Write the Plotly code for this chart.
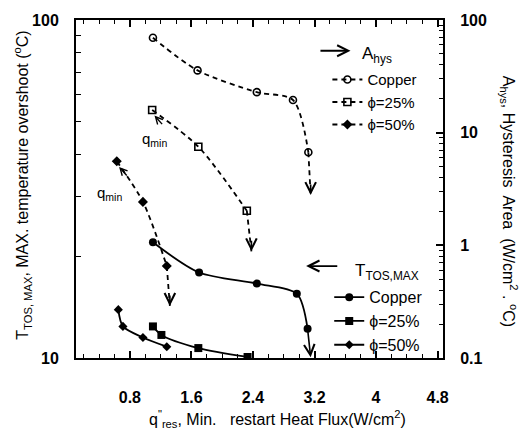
import numpy as np
import plotly.graph_objects as go

# ---------------- data ----------------
# Hysteresis area A_hys (right axis, dashed)
q_cu_hys = [1.10, 1.68, 2.45, 2.92, 3.12]
a_cu_hys = [69.5, 35.7, 22.9, 19.5, 6.7]
q_25_hys = [1.09, 1.69, 2.32]
a_25_hys = [15.9, 7.5, 2.03]
q_50_hys = [0.63, 0.97, 1.28]
a_50_hys = [5.57, 2.43, 0.655]
# where each hysteresis curve drops (arrow tips)
q_cu_hys_drop = [3.12, 3.15]
a_cu_hys_drop = [6.7, 2.8]
q_25_hys_drop = [2.32, 2.38]
a_25_hys_drop = [2.03, 0.885]
q_50_hys_drop = [1.28, 1.32]
a_50_hys_drop = [0.655, 0.29]

# Max temperature overshoot T_TOS,MAX (left axis, solid)
q_cu_t = [1.10, 1.70, 2.45, 2.97, 3.11]
t_cu = [22.0, 17.9, 16.6, 15.5, 12.2]
q_cu_t_drop = 3.15
t_cu_t_drop = 10.05
q_25_t = [1.10, 1.21, 1.69, 2.33]
t_25 = [12.4, 11.7, 10.7, 10.07]
q_50_t = [0.65, 0.71, 0.97, 1.28]
t_50 = [13.9, 12.4, 11.5, 10.8]

# q_min label positions (flux, A_hys)
q_min_label_q = [1.12, 0.54]
q_min_label_a = [8.7, 2.86]

x_ticks = [0.8, 1.6, 2.4, 3.2, 4.0, 4.8]
x_ticktext = ["0.8", "1.6", "2.4", "3.2", "4", "4.8"]
y_left_ticks = [10, 100]
y_right_ticks = [0.1, 1, 10, 100]
y_right_ticktext = ["0.1", "1", "10", "100"]
series_names = ["Copper", "\u03d5=25%", "\u03d5=50%"]

FONT = "Liberation Sans, Arial, sans-serif"
DASH = "5px,4px"
LW = 1.8

fig = go.Figure()

# ---- hysteresis (dashed, y2) ----
hys = [
    (q_cu_hys, a_cu_hys, "circle-open", 7, q_cu_hys_drop, a_cu_hys_drop),
    (q_25_hys, a_25_hys, "square-open", 7, q_25_hys_drop, a_25_hys_drop),
    (q_50_hys, a_50_hys, "diamond", 6, q_50_hys_drop, a_50_hys_drop),
]
for (qx, ay, sym, sz, dq, da), name in zip(hys, series_names):
    fig.add_trace(go.Scatter(
        x=qx, y=ay, yaxis="y2", mode="lines+markers", name=name,
        line=dict(color="black", width=LW, dash=DASH, shape="spline", smoothing=0.8),
        marker=dict(symbol=sym, size=sz, color="black", line=dict(color="black", width=1.6)),
        legend="legend",
    ))
    fig.add_trace(go.Scatter(
        x=dq, y=da, yaxis="y2", mode="lines", showlegend=False,
        line=dict(color="black", width=LW, dash=DASH), hoverinfo="skip",
    ))
    fig.add_annotation(
        x=dq[-1], y=np.log10(da[-1]), xref="x", yref="y2",
        ax=0, ay=-12, showarrow=True, arrowhead=5, arrowsize=1.3,
        arrowwidth=1.6, arrowcolor="black", text="",
    )

# ---- T_TOS,MAX (solid, y) ----
tos = [
    (q_cu_t, t_cu, "circle", 8),
    (q_25_t, t_25, "square", 8),
    (q_50_t, t_50, "diamond", 7),
]
for (qx, ty, sym, sz), name in zip(tos, series_names):
    fig.add_trace(go.Scatter(
        x=qx, y=ty, yaxis="y", mode="lines+markers", name=name,
        line=dict(color="black", width=LW, shape="spline", smoothing=0.8),
        marker=dict(symbol=sym, size=sz, color="black"),
        legend="legend2",
    ))

# copper T drop arrow (solid)
fig.add_annotation(
    x=q_cu_t_drop, y=np.log10(t_cu_t_drop), xref="x", yref="y",
    ax=q_cu_t[-1], ay=np.log10(t_cu[-1]), axref="x", ayref="y",
    showarrow=True, arrowhead=5, arrowsize=1.3, arrowwidth=1.6,
    arrowcolor="black", text="",
)

# q_min labels with little pointers
for qx, ay, lq, la in zip([q_25_hys, q_50_hys], [a_25_hys, a_50_hys],
                          q_min_label_q, q_min_label_a):
    fig.add_annotation(
        x=qx[0] + 0.03, y=np.log10(ay[0]) - 0.05, xref="x", yref="y2",
        ax=9, ay=10, showarrow=True, arrowhead=5, arrowsize=1.0,
        arrowwidth=1.4, arrowcolor="black", text="",
    )
    fig.add_annotation(
        x=lq, y=np.log10(la), xref="x", yref="y2",
        text="q<sub>min</sub>", showarrow=False, xanchor="center", yanchor="middle",
        font=dict(family=FONT, size=15, color="black"),
    )

# legend headers (arrows in axis-domain fractions)
fig.add_annotation(x=0.748, y=0.909, xref="x domain", yref="y domain",
                   ax=0.662, ay=0.909, axref="x domain", ayref="y domain",
                   showarrow=True, arrowhead=5, arrowsize=1.2, arrowwidth=1.8,
                   arrowcolor="black", text="")
fig.add_annotation(x=0.773, y=0.895, xref="paper", yref="paper",
                   text="A<sub>hys</sub>", showarrow=False, xanchor="left", yanchor="middle",
                   font=dict(family=FONT, size=17, color="black"))
fig.add_annotation(x=0.627, y=0.272, xref="x domain", yref="y domain",
                   ax=0.716, ay=0.272, axref="x domain", ayref="y domain",
                   showarrow=True, arrowhead=5, arrowsize=1.2, arrowwidth=1.8,
                   arrowcolor="black", text="")
fig.add_annotation(x=0.755, y=0.255, xref="paper", yref="paper",
                   text="T<sub>TOS,MAX</sub>", showarrow=False, xanchor="left", yanchor="middle",
                   font=dict(family=FONT, size=17, color="black"))

# axis titles
fig.add_annotation(x=0.548, y=-0.181, xref="paper", yref="paper",
                   xanchor="center", yanchor="middle",
                   text="q<sup>\"</sup><sub>res</sub>, Min.   restart Heat Flux(W/cm<sup>2</sup>)",
                   showarrow=False, font=dict(family=FONT, size=16, color="black"))
fig.add_annotation(x=-0.147, y=0.51, xref="paper", yref="paper", textangle=-90,
                   xanchor="center", yanchor="middle",
                   text="T<sub>TOS, MAX</sub>, MAX. temperature overshoot (<sup>o</sup>C)",
                   showarrow=False, font=dict(family=FONT, size=16, color="black"))
fig.add_annotation(x=1.18, y=0.465, xref="paper", yref="paper", textangle=90,
                   xanchor="center", yanchor="middle",
                   text="A<sub>hys</sub>, Hysteresis  Area  (W/cm<sup>2</sup> . <sup>o</sup>C)",
                   showarrow=False, font=dict(family=FONT, size=16, color="black"))

tickfont = dict(family=FONT, size=16, color="black", weight="bold")

fig.update_layout(
    width=521, height=436,
    margin=dict(l=76, r=78, t=16, b=78),
    paper_bgcolor="white", plot_bgcolor="white",
    font=dict(family=FONT, color="black"),
    xaxis=dict(
        range=[0.1, 4.87], tickvals=x_ticks, ticktext=x_ticktext,
        ticks="inside", ticklen=7, tickwidth=1.5, tickcolor="black",
        showline=True, linecolor="black", linewidth=2, mirror="ticks",
        showgrid=False, zeroline=False, tickfont=tickfont, ticklabelstandoff=24,
        minor=dict(dtick=0.2, tick0=0, ticks="inside", ticklen=4, tickcolor="black",
                   tickwidth=1.3, showgrid=False),
    ),
    yaxis=dict(
        type="log", range=[1, 2], tickvals=y_left_ticks,
        ticks="inside", ticklen=7, tickwidth=1.5, tickcolor="black",
        showline=True, linecolor="black", linewidth=2, mirror=False,
        showgrid=False, zeroline=False, tickfont=tickfont, ticklabelstandoff=12,
        minor=dict(tickvals=[20, 30, 40, 50, 60, 70, 80, 90], ticks="inside",
                   ticklen=5, tickcolor="black", tickwidth=1.3, showgrid=False),
    ),
    yaxis2=dict(
        type="log", range=[-1, 2], overlaying="y", side="right",
        tickvals=y_right_ticks, ticktext=y_right_ticktext,
        ticks="inside", ticklen=7, tickwidth=1.5, tickcolor="black",
        showline=True, linecolor="black", linewidth=2,
        showgrid=False, zeroline=False, tickfont=tickfont, ticklabelstandoff=12,
        minor=dict(tickvals=[0.2, 0.3, 0.4, 0.5, 0.6, 0.7, 0.8, 0.9,
                             2, 3, 4, 5, 6, 7, 8, 9,
                             20, 30, 40, 50, 60, 70, 80, 90],
                   ticks="inside", ticklen=4, tickcolor="black", tickwidth=1.3,
                   showgrid=False),
    ),
    legend=dict(x=0.685, y=0.872, xanchor="left", yanchor="top",
                bgcolor="rgba(0,0,0,0)", font=dict(family=FONT, size=15, color="black"),
                tracegroupgap=0, itemwidth=30),
    legend2=dict(x=0.69, y=0.23, xanchor="left", yanchor="top",
                 bgcolor="rgba(0,0,0,0)", font=dict(family=FONT, size=16, color="black"),
                 tracegroupgap=0, itemwidth=30),
)

fig.write_html("out.html")
